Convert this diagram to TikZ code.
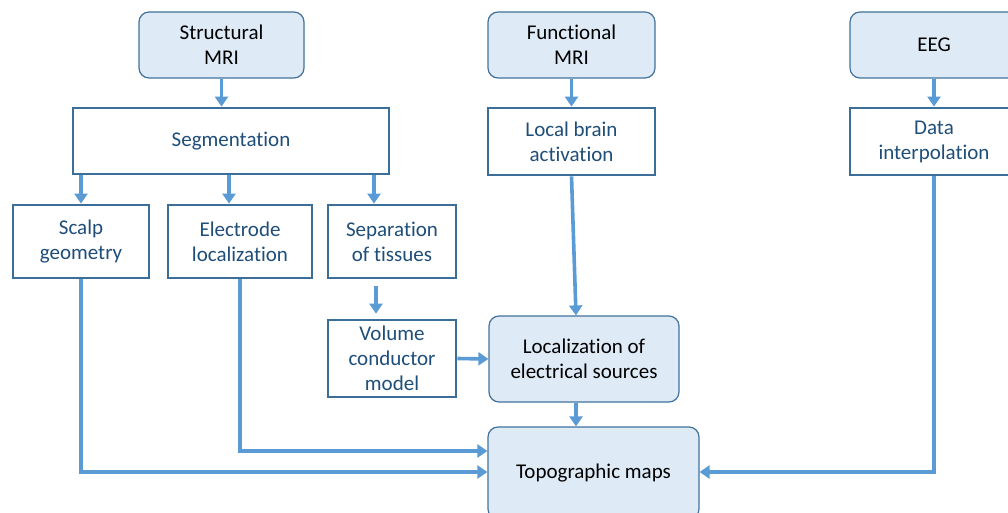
\documentclass[tikz,border=0pt]{standalone}
\usepackage{fontspec}
\setmainfont{Carlito}[Ligatures=NoCommon]
\usetikzlibrary{arrows.meta}
\definecolor{fillblue}{HTML}{DEEBF7}
\definecolor{edgeblue}{HTML}{41719C}
\definecolor{rectedge}{HTML}{3C6E9A}
\definecolor{recttext}{HTML}{1F4E79}
\definecolor{arrowblue}{HTML}{5B9BD5}
\tikzset{
  rbox/.style={draw=edgeblue, line width=1.2pt, fill=fillblue, rounded corners=10pt,
    align=center, text=black, font=\fontsize{21}{25}\selectfont, inner sep=0pt},
  pbox/.style={draw=rectedge, line width=2.8pt, fill=white,
    align=center, text=recttext, font=\fontsize{21}{25}\selectfont, inner sep=0pt},
  arr/.style={draw=arrowblue, line width=3.6pt, -{Triangle[length=10pt,width=13pt]}}
}
\begin{document}
\begin{tikzpicture}[x=1pt,y=-1pt]
\useasboundingbox (0,0) rectangle (1008,513);
\clip (0,0) rectangle (1008,513);
% rounded source boxes
\node[rbox, minimum width=165pt, minimum height=66pt] (smri) at (221.5,45) {Structural\\MRI};
\node[rbox, minimum width=167pt, minimum height=66pt] (fmri) at (571.5,45) {Functional\\MRI};
\node[rbox, minimum width=168pt, minimum height=66pt] (eeg) at (934,45) {EEG};
% process boxes
\node[pbox, minimum width=316pt, minimum height=66pt] (seg) at (231,141) {Segmentation};
\node[pbox, minimum width=167pt, minimum height=67pt] (lba) at (571.5,141.5) {Local brain\\activation};
\node[pbox, minimum width=168pt, minimum height=67pt] (data) at (934,141.5) {Data\\interpolation};
\node[pbox, minimum width=136pt, minimum height=73pt] (scalp) at (81,241.5) {Scalp\\geometry};
\node[pbox, minimum width=144pt, minimum height=73pt] (elec) at (240,241.5) {Electrode\\localization};
\node[pbox, minimum width=128pt, minimum height=73pt] (sep) at (392,241.5) {Separation\\of tissues};
\node[pbox, minimum width=128pt, minimum height=77pt] (vol) at (392,358.5) {Volume\\conductor\\model};
\node[rbox, minimum width=190pt, minimum height=86pt] (loc) at (584,359) {Localization of\\electrical sources};
\node[rbox, minimum width=211pt, minimum height=92pt] (topo) at (593.5,473) {Topographic maps};
% connectors
\draw[arr] (smri.south) -- (smri.south |- seg.north);
\draw[arr] (scalp.north |- seg.south) -- (scalp.north);
\draw[arr] ([xshift=-11pt]elec.north |- seg.south) -- ([xshift=-11pt]elec.north);
\draw[arr] ([xshift=-18pt]sep.north |- seg.south) -- ([xshift=-18pt]sep.north);
\draw[arr, shorten <=7pt, shorten >=5pt] ([xshift=-16pt]sep.south) -- ([xshift=-16pt]vol.north);
\draw[arr] (vol.east) -- (loc.west);
\draw[arr] (fmri.south) -- (fmri.south |- lba.north);
\draw[arr] (lba.south) -- ([xshift=-8pt]loc.north);
\draw[arr] ([xshift=-8pt]loc.south) -- ([xshift=-8pt]loc.south |- topo.north);
\draw[arr] (eeg.south) -- (eeg.south |- data.north);
\draw[arr] (scalp.south) |- ([yshift=1pt]topo.west);
\draw[arr] (elec.south) |- ([yshift=22pt]topo.west);
\draw[arr] (data.south) |- ([yshift=1pt]topo.east);
\end{tikzpicture}
\end{document}
